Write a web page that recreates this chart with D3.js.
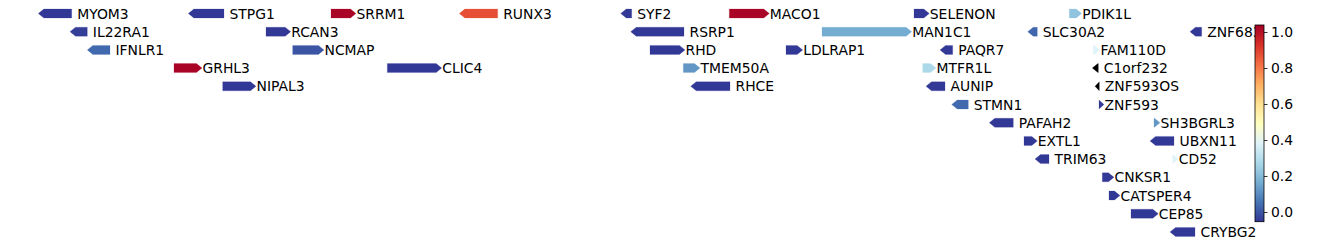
<!DOCTYPE html>
<html>
<head>
<meta charset="utf-8">
<script src="https://cdn.jsdelivr.net/npm/d3@7"></script>
<style>
  body { margin: 0; background: #fff; }
  text { font-family: "DejaVu Sans", sans-serif; }
</style>
</head>
<body>
<script>
// gene track data (positions in kb)
const geneNames = ["MYOM3","STPG1","SRRM1","RUNX3","SYF2","MACO1","SELENON","PDIK1L",
  "IL22RA1","RCAN3","RSRP1","MAN1C1","SLC30A2","ZNF683",
  "IFNLR1","NCMAP","RHD","LDLRAP1","PAQR7","FAM110D",
  "GRHL3","CLIC4","TMEM50A","MTFR1L","C1orf232",
  "NIPAL3","RHCE","AUNIP","ZNF593OS",
  "STMN1","ZNF593","PAFAH2","SH3BGRL3","EXTL1","UBXN11","TRIM63","CD52",
  "CNKSR1","CATSPER4","CEP85","CRYBG2"];
const geneStart = [24038.3,24188.3,24331,24459.3,24620.7,24729.3,24914,25069.3,
  24070,24266,24630.7,24822,25027.7,25190,
  24087.3,24292.7,24650,24786,24940,25093.3,
  24174,24387.3,24683.3,24922.7,25092.3,
  24222.7,24690.7,24926,25095,
  24951.7,25099,24989.3,25154,25024,25150,25035,25172.7,
  25102.3,25109,25131,25170];
const geneEnd = [24071.7,24224,24356,24497.7,24631.7,24769.3,24929.3,25081.7,
  24087.3,24290.7,24684,24911.7,25037.3,25201.7,
  24110,24324,24685,24802.7,24952.7,25100,
  24202,24441.7,24700,24936,25098.3,
  24256,24730,24945,25099.3,
  24968.3,25104,25013.3,25160,25037.3,25174,25049,25178.3,
  25114,25120,25158.3,25195];
const geneStrand = [-1,-1,1,-1,-1,1,1,1,
  -1,1,-1,1,-1,-1,
  -1,1,1,1,-1,1,
  1,1,1,1,-1,
  1,-1,-1,-1,
  -1,1,-1,1,1,-1,-1,1,
  1,1,1,-1];
const geneRow = [0,0,0,0,0,0,0,0,
  1,1,1,1,1,1,
  2,2,2,2,2,2,
  3,3,3,3,3,
  4,4,4,4,
  5,5,6,6,7,7,8,8,
  9,10,11,12];
const geneScore = [-0.05,-0.05,1.03,0.875,-0.05,1.03,-0.05,0.22,
  -0.04,-0.05,-0.05,0.165,0.03,-0.05,
  0.035,0.0,-0.05,-0.05,-0.05,0.383,
  1.03,-0.05,0.12,0.274,null,
  -0.05,-0.05,-0.05,null,
  0.035,-0.05,-0.05,0.12,-0.05,-0.05,-0.05,0.383,
  -0.05,-0.05,-0.05,-0.05];
const cbarTicks = [0, 0.2, 0.4, 0.6, 0.8, 1.0];
const scoreRange = [-0.054, 1.039];

const width = 1338, height = 246;
const genes = geneNames.map((n, i) => ({
  name: n, start: geneStart[i], end: geneEnd[i], strand: geneStrand[i],
  row: geneRow[i], score: geneScore[i]
}));

const svg = d3.select("body").append("svg")
  .attr("width", width).attr("height", height);

const x = d3.scaleLinear().domain([24000, 25338]).range([0, 1338]);
const y = d3.scalePoint().domain(d3.range(13)).range([13.5, 231.9]);
const norm = d3.scaleLinear().domain(scoreRange).range([0, 1]).clamp(true);
// piecewise-linear RdYlBu reversed, like matplotlib's RdYlBu_r
const cmap = d3.scaleLinear()
  .domain(d3.range(11).map((i) => i / 10))
  .range(d3.schemeRdYlBu[11].slice().reverse())
  .clamp(true);
const color = (v) => v == null ? "#000" : cmap(norm(v));

const arrowH = 9, headL = 5.5;

function arrowPath(d) {
  const s = x(d.start), e = x(d.end), cy = y(d.row);
  const h = Math.min(headL, e - s);
  const t = cy - arrowH / 2, b = cy + arrowH / 2;
  if (d.strand > 0) {
    return `M${s},${t}L${e - h},${t}L${e},${cy}L${e - h},${b}L${s},${b}Z`;
  }
  return `M${e},${t}L${s + h},${t}L${s},${cy}L${s + h},${b}L${e},${b}Z`;
}

const g = svg.append("g");
g.selectAll("path.gene").data(genes).join("path")
  .attr("class", "gene")
  .attr("d", arrowPath)
  .attr("fill", (d) => color(d.score))
  .attr("stroke", (d) => color(d.score))
  .attr("stroke-width", 0.4)
  .attr("stroke-opacity", 0.5);

g.selectAll("text.label").data(genes).join("text")
  .attr("class", "label")
  .attr("x", (d) => x(d.end) + (d.strand > 0 ? 0.5 : 5.5))
  .attr("y", (d) => y(d.row))
  .attr("dy", "0.36em")
  .style("font-size", "13.9px")
  .style("fill", "#000")
  .text((d) => d.name);

// colorbar
const cbX = 1255, cbW = 9, cbTop = 25, cbBot = 221.7;
const cbScale = d3.scaleLinear().domain(scoreRange).range([cbBot, cbTop]);

const grad = svg.append("defs").append("linearGradient")
  .attr("id", "cbgrad").attr("x1", 0).attr("y1", 1).attr("x2", 0).attr("y2", 0);
d3.range(0, 1.0001, 0.05).forEach((t) => {
  grad.append("stop").attr("offset", t).attr("stop-color", cmap(t));
});

svg.append("rect")
  .attr("x", cbX).attr("y", cbTop)
  .attr("width", cbW).attr("height", cbBot - cbTop)
  .attr("fill", "url(#cbgrad)")
  .attr("stroke", "#000").attr("stroke-width", 0.8);

const cbAxis = svg.append("g")
  .attr("transform", "translate(" + (cbX + cbW) + ",0)")
  .call(d3.axisRight(cbScale).tickValues(cbarTicks).tickFormat(d3.format(".1f")).tickSize(3.5).tickPadding(3.5));
cbAxis.select(".domain").remove();
cbAxis.selectAll("text")
  .style("font-family", "DejaVu Sans, sans-serif")
  .style("font-size", "13.9px")
  .attr("fill", "#000");
cbAxis.selectAll("line").attr("stroke", "#000").attr("stroke-width", 0.8);
</script>
</body>
</html>
